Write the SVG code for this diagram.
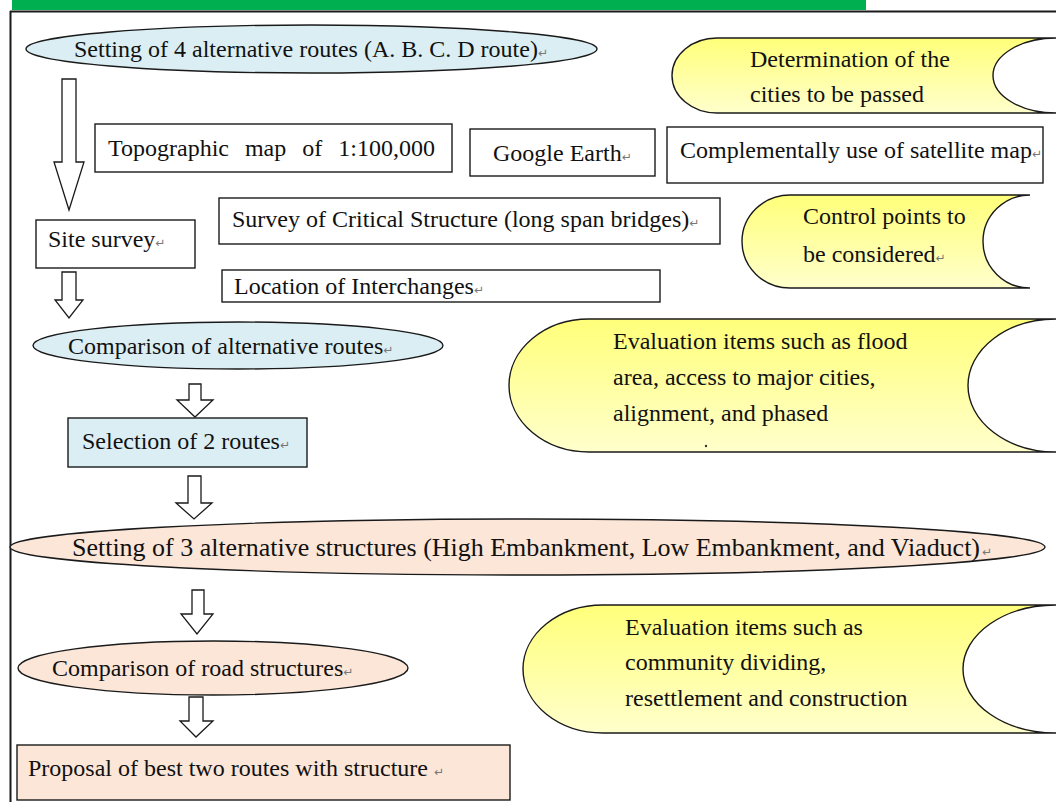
<svg xmlns="http://www.w3.org/2000/svg" width="1056" height="802" viewBox="0 0 1056 802">
  <style>
    .t { font-family: "Liberation Serif", "Times New Roman", serif; font-size: 24px; fill: #111111; }
    .pm { font-family: "DejaVu Sans", sans-serif; font-size: 12px; fill: #777; }
    .box { fill: #ffffff; stroke: #1a1a1a; stroke-width: 1.4; }
    .blue { fill: #dbeef4; stroke: #1a1a1a; stroke-width: 1.4; }
    .peach { fill: #fbe6d8; stroke: #1a1a1a; stroke-width: 1.4; }
    .note { fill: url(#yel); stroke: #1a1a1a; stroke-width: 1.4; }
    .arrow { fill: #ffffff; stroke: #1a1a1a; stroke-width: 1.3; stroke-linejoin: miter; }
  </style>
  <defs>
    <linearGradient id="yel" x1="0" y1="0" x2="0" y2="1">
      <stop offset="0" stop-color="#ffff7a"/>
      <stop offset="1" stop-color="#ffffcc"/>
    </linearGradient>
  </defs>

  <rect width="1056" height="802" fill="#ffffff"/>

  <!-- header bar and frame -->
  <g id="frame">
    <rect x="12" y="0" width="854" height="10" fill="#00b050"/>
    <line x1="10" y1="11.5" x2="1056" y2="11.5" stroke="#1a1a1a" stroke-width="2"/>
    <line x1="10.5" y1="11" x2="10.5" y2="802" stroke="#1a1a1a" stroke-width="2"/>
  </g>

  <!-- block arrows -->
  <g id="connectors">
    <path class="arrow" d="M62 79 L76 79 L76 162 L84 162 L69 210 L54 162 L62 162 Z"/>
    <path class="arrow" d="M62 272 L76 272 L76 300 L83 300 L69 318 L55 300 L62 300 Z"/>
    <path class="arrow" d="M189 384 L201 384 L201 400 L213 400 L195 417 L177 400 L189 400 Z"/>
    <path class="arrow" d="M188 476 L201 476 L201 503 L212 503 L194 519 L176 503 L188 503 Z"/>
    <path class="arrow" d="M192 590 L204 590 L204 614 L213 614 L197 634 L181 614 L192 614 Z"/>
    <path class="arrow" d="M189 697 L203 697 L203 721 L213 721 L196 737 L180 721 L189 721 Z"/>
  </g>

  <g id="n-setting-routes">
    <ellipse class="blue" cx="311.5" cy="49" rx="285.5" ry="24"/>
    <text class="t" x="74" y="57">Setting of 4 alternative routes (A. B. C. D route)<tspan class="pm">↵</tspan></text>
  </g>

  <g id="n-cities">
    <path class="note" d="M717 38 L1056 38 A63 37.5 0 0 0 1056 113 L717 113 A45 37.5 0 0 1 717 38 Z"/>
    <text class="t" x="750" y="67">Determination of the</text>
    <text class="t" x="750" y="102">cities to be passed</text>
  </g>

  <g id="n-topo">
    <rect class="box" x="95" y="124" width="357" height="48"/>
    <text class="t" x="108" y="156" word-spacing="10">Topographic map of 1:100,000</text>
  </g>

  <g id="n-google">
    <rect class="box" x="470" y="129" width="185" height="47"/>
    <text class="t" x="493" y="161">Google Earth<tspan class="pm">↵</tspan></text>
  </g>

  <g id="n-satellite">
    <rect class="box" x="667" y="127" width="376" height="56"/>
    <text class="t" x="680" y="158">Complementally use of satellite map<tspan class="pm">↵</tspan></text>
  </g>

  <g id="n-site">
    <rect class="box" x="36" y="220" width="159" height="48"/>
    <text class="t" x="48" y="247">Site survey<tspan class="pm">↵</tspan></text>
  </g>

  <g id="n-critical">
    <rect class="box" x="219" y="198" width="501" height="46"/>
    <text class="t" x="232" y="227">Survey of Critical Structure (long span bridges)<tspan class="pm">↵</tspan></text>
  </g>

  <g id="n-control">
    <path class="note" d="M790 195 L1030 195 A47 46.5 0 0 0 1030 288 L790 288 A48 46.5 0 0 1 790 195 Z"/>
    <text class="t" x="803" y="224">Control points to</text>
    <text class="t" x="803" y="262">be considered<tspan class="pm">↵</tspan></text>
  </g>

  <g id="n-interchanges">
    <rect class="box" x="222" y="270" width="438" height="32"/>
    <text class="t" x="234" y="294">Location of Interchanges<tspan class="pm">↵</tspan></text>
  </g>

  <g id="n-compare-routes">
    <ellipse class="blue" cx="238" cy="345.5" rx="205" ry="23.5"/>
    <text class="t" x="68" y="354">Comparison of alternative routes<tspan class="pm">↵</tspan></text>
  </g>

  <g id="n-eval-routes">
    <path class="note" d="M589 319 L1056 319 A88 66.5 0 0 0 1056 452 L589 452 A80 66.5 0 0 1 589 319 Z"/>
    <text class="t" x="613" y="349">Evaluation items such as flood</text>
    <text class="t" x="613" y="385">area, access to major cities,</text>
    <text class="t" x="613" y="421">alignment, and phased</text>
    <circle cx="706" cy="446" r="1.2" fill="#333"/>
  </g>

  <g id="n-selection">
    <rect class="blue" x="68" y="418" width="239" height="49"/>
    <text class="t" x="82" y="449">Selection of 2 routes<tspan class="pm">↵</tspan></text>
  </g>

  <g id="n-setting-structures">
    <ellipse class="peach" cx="527.5" cy="547" rx="517.5" ry="28"/>
    <text class="t" x="72" y="556" style="font-size:25px" textLength="908" lengthAdjust="spacingAndGlyphs">Setting of 3 alternative structures (High Embankment, Low Embankment, and Viaduct)</text>
    <text class="pm" x="982" y="556">↵</text>
  </g>

  <g id="n-eval-structures">
    <path class="note" d="M603 605 L1056 605 A93 64 0 0 0 1056 733 L603 733 A80 64 0 0 1 603 605 Z"/>
    <text class="t" x="625" y="635">Evaluation items such as</text>
    <text class="t" x="625" y="670">community dividing,</text>
    <text class="t" x="625" y="706">resettlement and construction</text>
  </g>

  <g id="n-compare-structures">
    <ellipse class="peach" cx="213" cy="668" rx="195" ry="27"/>
    <text class="t" x="52" y="676">Comparison of road structures<tspan class="pm">↵</tspan></text>
  </g>

  <g id="n-proposal">
    <rect class="peach" x="17" y="745" width="493" height="55"/>
    <text class="t" x="28" y="776" xml:space="preserve">Proposal of best two routes with structure <tspan class="pm">↵</tspan></text>
  </g>
</svg>
